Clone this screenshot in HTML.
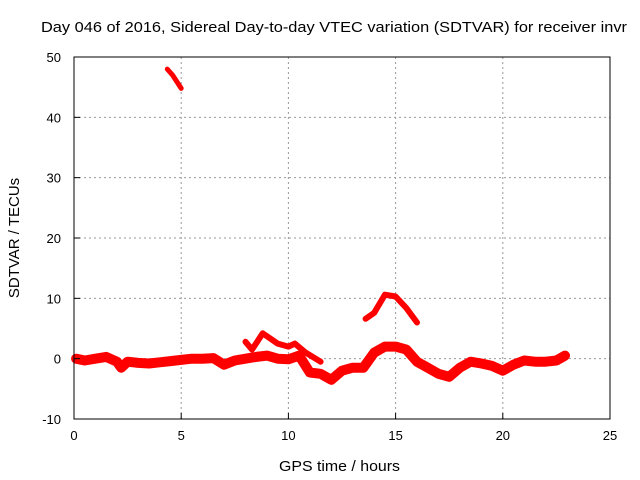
<!DOCTYPE html>
<html><head><meta charset="utf-8"><style>
body{margin:0;background:#fff}
svg{display:block;font-family:"Liberation Sans",sans-serif;font-size:13px}
</style></head><body>
<svg id="chart" width="640" height="480" viewBox="0 0 640 480">
<text x="41" y="32" textLength="586" lengthAdjust="spacingAndGlyphs" font-size="15">Day 046 of 2016, Sidereal Day-to-day VTEC variation (SDTVAR) for receiver invr</text>
<g id="grid"></g>
<g id="series"></g>
<rect x="74" y="57" width="536" height="362" fill="none" stroke="#000"/>
<g id="axes"></g>
<text x="279" y="471" textLength="121" lengthAdjust="spacingAndGlyphs" font-size="15">GPS time / hours</text>
<text transform="translate(19,238) rotate(-90)" text-anchor="middle" font-size="15">SDTVAR / TECUs</text>
</svg>
<script>
const xTicks=[0,5,10,15,20,25];
const yTicks=[-10,0,10,20,30,40,50];
const mainHours=[0.1,0.5,1,1.5,2,2.2,2.5,3,3.5,4,4.5,5,5.5,6,6.5,7,7.5,8,8.5,9,9.5,10,10.5,11,11.5,12,12.5,13,13.5,14,14.5,15,15.5,16,16.5,17,17.5,18,18.5,19,19.5,20,20.5,21,21.5,22,22.5,22.9];
const mainValues=[0,-0.3,0,0.3,-0.5,-1.5,-0.5,-0.7,-0.8,-0.6,-0.4,-0.2,0,0,0.1,-1,-0.3,0,0.3,0.5,0,-0.1,0.5,-2.3,-2.5,-3.5,-2,-1.5,-1.5,1,2,2,1.5,-0.5,-1.5,-2.5,-3,-1.5,-0.5,-0.8,-1.2,-2,-1,-0.3,-0.5,-0.5,-0.3,0.5];
const upperHours=[8,8.3,8.8,9.5,10,10.3,10.8,11.5];
const upperValues=[2.8,1.5,4.2,2.5,2,2.5,1,-0.5];
const humpHours=[13.6,14,14.5,15,15.5,16];
const humpValues=[6.6,7.6,10.6,10.3,8.4,6];
const topHours=[4.35,4.6,5];
const topValues=[48,47,44.8];
const X0=74,X1=610,Y0=419,Y1=57,xMin=0,xMax=25,yMin=-10,yMax=50;
const sx=v=>X0+(v-xMin)/(xMax-xMin)*(X1-X0);
const sy=v=>Y0-(v-yMin)/(yMax-yMin)*(Y0-Y1);
const NS="http://www.w3.org/2000/svg";
const grid=document.getElementById('grid'),axes=document.getElementById('axes'),series=document.getElementById('series');
function mk(t,a,p){const e=document.createElementNS(NS,t);for(const k in a)e.setAttribute(k,a[k]);p.appendChild(e);return e;}
xTicks.forEach(t=>{
  const x=sx(t);
  if(t>xMin&&t<xMax){const g=mk('line',{x1:x,x2:x,y1:Y1,y2:Y0,stroke:'#999','stroke-dasharray':'2,3'},grid);
  
  }
  const tk=mk('line',{x1:x,x2:x,y1:Y0,y2:Y0-6,stroke:'#000'},axes);
  
  
  const tx=mk('text',{x:x,y:Y0+21,'text-anchor':'middle'},axes);tx.textContent=t;
  
  
});
yTicks.forEach(t=>{
  const y=sy(t);
  if(t>yMin&&t<yMax){const g=mk('line',{x1:X0,x2:X1,y1:y,y2:y,stroke:'#999','stroke-dasharray':'2,3'},grid);
  
  }
  const tk=mk('line',{x1:X0,x2:X0+6,y1:y,y2:y,stroke:'#000'},axes);
  
  
  const tx=mk('text',{x:X0-13,y:y+5,'text-anchor':'end'},axes);tx.textContent=t;
  
  
});
function draw(hs,vs,name,w){
  const pts=hs.map((h,i)=>sx(h).toFixed(1)+','+sy(vs[i]).toFixed(1)).join(' ');
  const p=mk('polyline',{points:pts,fill:'none',stroke:'#f00','stroke-width':w,'stroke-linejoin':'round','stroke-linecap':'round'},series);
  
  
}
draw(mainHours,mainValues,'main-band-series',10);
draw(upperHours,upperValues,'upper-band-series',6);
draw(humpHours,humpValues,'hump-series',6);
draw(topHours,topValues,'top-segment-series',5);
</script>
</body></html>
